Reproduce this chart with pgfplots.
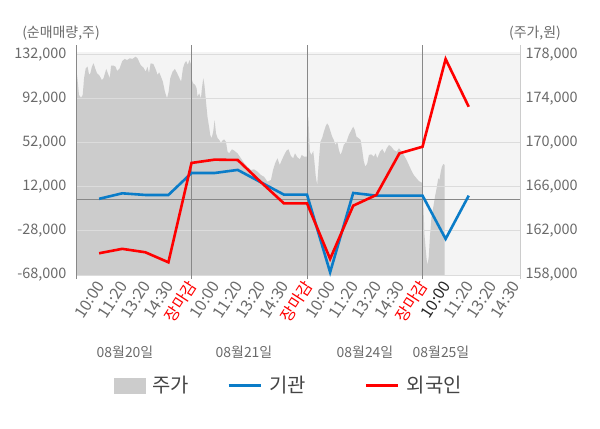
\documentclass[border=0pt]{standalone}
\usepackage{fontspec}
\setmainfont{Noto Sans CJK KR}
\usepackage{pgfplots}
\usepackage{pgfplotstable}
\pgfplotsset{compat=1.18}
\definecolor{bg}{HTML}{F4F4F4}
\definecolor{areac}{HTML}{CCCCCC}
\definecolor{gridc}{HTML}{DCDCDC}
\definecolor{sepc}{HTML}{888888}
\definecolor{txt}{HTML}{6A6A6A}
\definecolor{legtxt}{HTML}{444444}
\definecolor{blu}{HTML}{0A7CC8}
\definecolor{rd}{HTML}{FF0000}

\pgfplotstableread{
u price
0 158000
0 176780
0.06 175840
0.13 174300
0.22 174060
0.29 174300
0.35 175840
0.42 176720
0.50 176870
0.57 176120
0.62 176270
0.69 176870
0.76 177180
0.83 176720
0.91 176270
1.02 176050
1.12 175660
1.19 175820
1.31 176660
1.38 176270
1.46 175820
1.52 176960
1.63 176960
1.71 176870
1.78 176480
1.89 176720
2.00 177380
2.11 177570
2.21 177470
2.33 177630
2.44 177570
2.58 177770
2.66 177630
2.80 177020
2.92 176780
3.02 176420
3.09 176870
3.16 176270
3.23 177180
3.35 177110
3.46 176570
3.53 176120
3.60 176360
3.68 175960
3.76 175510
3.85 174600
3.94 174000
4.01 174600
4.08 175820
4.18 176420
4.28 176660
4.38 176270
4.48 175820
4.55 175510
4.63 176720
4.70 177180
4.77 177380
4.84 177020
4.91 177470
4.99 177020
5.02 175660
5.07 175360
5.16 175210
5.22 174910
5.26 174150
5.33 174460
5.41 174000
5.45 174910
5.51 175820
5.56 175210
5.62 173850
5.69 172340
5.77 171290
5.81 170680
5.87 170380
5.94 170980
6.00 172040
6.06 170840
6.13 170380
6.20 170230
6.27 169980
6.34 170170
6.41 170290
6.49 170070
6.56 169170
6.63 169020
6.75 169390
6.85 169260
6.99 169020
7.14 168570
7.28 168120
7.42 167810
7.57 167510
7.71 167570
7.86 167360
8.00 167060
8.14 166900
8.29 166450
8.44 166610
8.53 167510
8.62 168120
8.72 168570
8.82 167960
8.91 168420
9.01 168870
9.11 169260
9.20 169390
9.30 168780
9.40 168570
9.48 169020
9.58 168660
9.69 168480
9.77 168870
9.87 168720
9.99 168720
10.01 172650
10.06 172190
10.12 169170
10.19 168870
10.27 169230
10.32 168260
10.38 166900
10.44 166150
10.51 168260
10.58 170070
10.66 170440
10.73 170980
10.80 171430
10.87 171740
10.94 171520
11.02 170980
11.09 170530
11.16 170230
11.23 169780
11.31 170070
11.38 169320
11.45 168870
11.52 169230
11.59 169780
11.71 170070
11.81 170680
11.92 171130
12.00 171430
12.07 171130
12.14 170530
12.24 170380
12.32 170230
12.39 169320
12.46 168260
12.53 167810
12.61 168120
12.68 168870
12.78 168930
12.89 168720
12.97 169020
13.04 168570
13.16 169170
13.26 169410
13.36 169020
13.45 169480
13.55 169780
13.65 169620
13.76 169320
13.88 169170
13.98 169480
14.08 169230
14.19 168870
14.31 168420
14.41 167960
14.51 167510
14.62 167060
14.74 166760
14.84 166510
14.94 166400
15.00 166310
15.03 164790
15.08 161780
15.14 160260
15.18 159360
15.22 158910
15.27 159660
15.32 161470
15.39 163280
15.47 164190
15.54 165090
15.61 165850
15.68 166760
15.73 166610
15.79 167360
15.84 167810
15.90 168050
15.96 167960
15.96 158000
}\pricetable

\pgfplotstableread{
u inst foreign
1 1000 -48300
2 6000 -44300
3 4500 -47400
4 4500 -56500
5 24400 33500
6 24400 36500
7 27200 36200
8 16000 16200
9 4800 -3100
10 4800 -3100
11 -65500 -53400
12 6300 -5200
13 3900 4500
14 3900 42200
15 3900 48200
16 -35300 127600
17 3900 84400
}\flowtable

\begin{document}
\begin{tikzpicture}[x=1bp,y=1bp]
\useasboundingbox (0,0) rectangle (600,428);
% price (right axis)
\begin{axis}[
  at={(76bp,153bp)}, anchor=south west, scale only axis,
  width=444bp, height=223bp,
  xmin=0, xmax=19.22, ymin=158000, ymax=178200,
  axis line style={draw=none}, xtick=\empty,
  ytick={158000,162000,166000,170000,174000,178000},
  yticklabel pos=right, scaled y ticks=false,
  major tick length=0pt,
  /pgf/number format/fixed, /pgf/number format/1000 sep={,},
  /pgf/number format/assume math mode=true,
  yticklabel style={font=\fontsize{14.5}{17}\selectfont, text=txt, xshift=2bp},
  axis background/.style={fill=bg},
]
\addplot[fill=areac, draw=none] table[x=u,y=price]{\pricetable};
\end{axis}
% flows (left axis)
\begin{axis}[
  at={(76bp,153bp)}, anchor=south west, scale only axis,
  width=444bp, height=223bp,
  xmin=0, xmax=19.22, ymin=-68000, ymax=134000,
  axis line style={draw=none}, clip=false,
  ytick={-68000,-28000,12000,52000,92000,132000},
  scaled y ticks=false, ymajorgrids,
  grid style={color=gridc, line width=1bp},
  major tick length=0pt,
  /pgf/number format/fixed, /pgf/number format/1000 sep={,},
  /pgf/number format/assume math mode=true,
  yticklabel style={font=\fontsize{14.5}{17}\selectfont, text=txt, xshift=-6bp},
  xtick={1,2,3,4,5,6,7,8,9,10,11,12,13,14,15,16,17,18,19},
  xticklabels={10:00,11:20,13:20,14:30,{\color{rd}장마감},10:00,11:20,13:20,14:30,{\color{rd}장마감},10:00,11:20,13:20,14:30,{\color{rd}장마감},{\color{black!85}10:00},11:20,13:20,14:30},
  xticklabel style={xshift=3bp, yshift=-5bp, rotate=57, anchor=east, font=\fontsize{16}{18}\selectfont, text=txt},
  legend image code/.code={\draw[#1, line width=3bp] (0bp,0bp) -- (32bp,0bp);},
  legend style={at={(0.0788,-0.4955)}, anchor=west, draw=none, fill=none,
    font=\fontsize{20}{23}\selectfont, text=legtxt, legend columns=3,
    /tikz/every even column/.append style={column sep=36bp},
    /tikz/every odd column/.append style={column sep=5bp}},
]
\addlegendimage{legend image code/.code={\fill[areac] (0bp,-7.5bp) rectangle (31bp,7.5bp);}}
\addlegendentry{주가}
\draw[sepc, line width=1bp] (axis cs:0,0) -- (axis cs:19.22,0);
\draw[sepc, line width=1bp] ([yshift=-4bp]axis cs:0,-68000) -- ([yshift=7bp]axis cs:0,134000);
\draw[sepc, line width=1bp] ([yshift=-4bp]axis cs:5,-68000) -- ([yshift=7bp]axis cs:5,134000);
\draw[sepc, line width=1bp] ([yshift=-4bp]axis cs:10,-68000) -- ([yshift=7bp]axis cs:10,134000);
\draw[sepc, line width=1bp] ([yshift=-4bp]axis cs:15,-68000) -- ([yshift=7bp]axis cs:15,134000);
\draw[areac, line width=1bp] ([yshift=-4bp]axis cs:19.22,-68000) -- ([yshift=7bp]axis cs:19.22,134000);
\addplot[blu, line width=2.6bp] table[x=u,y=inst]{\flowtable};
\addlegendentry{기관\rule{21bp}{0pt}}
\addplot[rd, line width=2.6bp] table[x=u,y=foreign]{\flowtable};
\addlegendentry{외국인}
\end{axis}
\node[font=\fontsize{14}{16}\selectfont, text=txt] at (61,395) {(순매매량,주)};
\node[font=\fontsize{14}{16}\selectfont, text=txt] at (535,395) {(주가,원)};
\node[font=\fontsize{14}{16}\selectfont, text=txt] at (125,76) {08월20일};
\node[font=\fontsize{14}{16}\selectfont, text=txt] at (244,76) {08월21일};
\node[font=\fontsize{14}{16}\selectfont, text=txt] at (365,76) {08월24일};
\node[font=\fontsize{14}{16}\selectfont, text=txt] at (441,76) {08월25일};
\end{tikzpicture}
\end{document}
